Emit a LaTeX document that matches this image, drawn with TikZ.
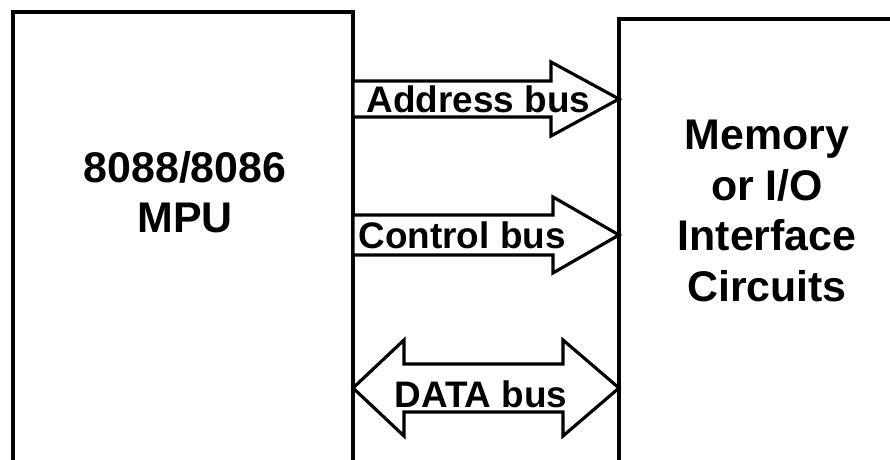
\documentclass[tikz,border=0pt]{standalone}
\usepackage{fontspec}
\setmainfont{Liberation Sans}
\usetikzlibrary{positioning,calc}

\begin{document}
\begin{tikzpicture}[line width=0.9pt,
    boxtext/.style={align=center,font=\fontsize{12.2}{14.4}\selectfont\bfseries},
    bustext/.style={font=\fontsize{10.5}{12}\selectfont\bfseries,inner sep=0pt},
    busline/.style={line join=miter,fill=white}]
  \useasboundingbox (0,0) rectangle (8.9,4.6);
  \clip (0,0) rectangle (8.9,4.6);

  % blocks, open at the bottom
  \coordinate (mpuNW) at (0.13,4.48);
  \coordinate (mpuNE) at (3.53,4.48);
  \coordinate (memNW) at (6.19,4.41);
  \draw (mpuNW |- 0,-0.2) -- (mpuNW) -- (mpuNE) -- (mpuNE |- 0,-0.2);
  \draw (memNW |- 0,-0.2) -- (memNW) -- (9.2,4.41);
  \node[boxtext] (mpu) at (1.85,2.68) {8088/8086\\MPU};
  \node[boxtext] (mem) at (7.67,2.49) {Memory\\or I/O\\Interface\\Circuits};

  % bus ends
  \coordinate (addrL) at (mpuNE |- 0,3.61);
  \coordinate (addrR) at (memNW |- 0,3.61);
  \coordinate (ctrlL) at (mpuNE |- 0,2.25);
  \coordinate (ctrlR) at (memNW |- 0,2.25);
  \coordinate (dataL) at (mpuNE |- 0,0.72);
  \coordinate (dataR) at (memNW |- 0,0.72);

  % address bus
  \draw[busline] ($(addrL)+(0,0.18)$) -- ($(addrR)+(-0.68,0.18)$)
    -- ($(addrR)+(-0.68,0.37)$) -- (addrR) -- ($(addrR)+(-0.68,-0.37)$)
    -- ($(addrR)+(-0.68,-0.18)$) -- ($(addrL)+(0,-0.18)$) -- cycle;
  \node[bustext,right=0.12 of addrL] (addr) {Address bus};

  % control bus
  \draw[busline] ($(ctrlL)+(0,0.2)$) -- ($(ctrlR)+(-0.66,0.2)$)
    -- ($(ctrlR)+(-0.66,0.38)$) -- (ctrlR) -- ($(ctrlR)+(-0.66,-0.38)$)
    -- ($(ctrlR)+(-0.66,-0.2)$) -- ($(ctrlL)+(0,-0.2)$) -- cycle;
  \node[bustext,right=0.04 of ctrlL] (ctrl) {Control bus};

  % data bus, both ways
  \draw[busline] (dataL) -- ($(dataL)+(0.51,0.48)$) -- ($(dataL)+(0.51,0.24)$)
    -- ($(dataR)+(-0.56,0.24)$) -- ($(dataR)+(-0.56,0.48)$) -- (dataR)
    -- ($(dataR)+(-0.56,-0.48)$) -- ($(dataR)+(-0.56,-0.24)$)
    -- ($(dataL)+(0.51,-0.24)$) -- ($(dataL)+(0.51,-0.48)$) -- cycle;
  \node[bustext,right=0.4 of dataL,yshift=-0.06cm] (data) {DATA bus};
\end{tikzpicture}
\end{document}
